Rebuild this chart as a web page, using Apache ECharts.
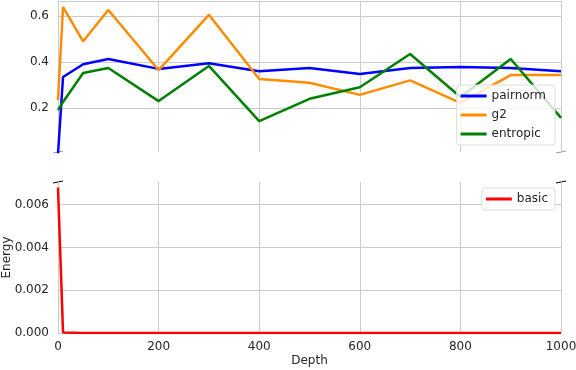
<!DOCTYPE html>
<html>
<head>
<meta charset="utf-8">
<script src="https://cdn.jsdelivr.net/npm/echarts@6/dist/echarts.min.js"></script>
<style>
html,body{margin:0;padding:0;background:#fff;}
#chart{width:576px;height:370px;}
</style>
</head>
<body>
<div id="chart"></div>
<script>
// depth values (x) shared by all series
var depth = [0, 10, 50, 100, 200, 300, 400, 500, 600, 700, 800, 900, 1000];
// top panel
var pairnorm = [0.0, 0.335, 0.39, 0.413, 0.37, 0.395, 0.36, 0.374, 0.348, 0.374, 0.378, 0.374, 0.36];
var g2 = [0.235, 0.639, 0.49, 0.626, 0.365, 0.605, 0.326, 0.31, 0.257, 0.32, 0.222, 0.343, 0.343];
var entropic = [0.191, 0.226, 0.352, 0.374, 0.23, 0.383, 0.143, 0.24, 0.29, 0.435, 0.248, 0.413, 0.157];
// bottom panel
var basic = [0.0068, 0.00002, 0, 0, 0, 0, 0, 0, 0, 0, 0, 0, 0];
var xTicks = [0, 200, 400, 600, 800, 1000];

function pairs(ys){
    var out = [];
    for (var i = 0; i < depth.length; i++) out.push([depth[i], ys[i]]);
    return out;
}

var gray = '#cccccc';
var txt = '#262626';
var font = 'DejaVu Sans';

var chart = echarts.init(document.getElementById('chart'));

var option = {
    backgroundColor: '#fff',
    animation: false,
    textStyle: {fontFamily: font},
    grid: [
        {left: 58, right: 15, top: 1, height: 151, outerBoundsMode: 'none', containLabel: false},
        {left: 58, right: 15, top: 182, height: 151, outerBoundsMode: 'none', containLabel: false}
    ],
    xAxis: [
        {   // top panel
            gridIndex: 0, type: 'value', position: 'top',
            min: xTicks[0], max: xTicks[xTicks.length - 1], interval: 200,
            axisLine: {show: true, lineStyle: {color: gray}},
            axisTick: {show: false},
            axisLabel: {show: false},
            splitLine: {show: true, lineStyle: {color: gray}}
        },
        {   // bottom panel
            gridIndex: 1, type: 'value', position: 'bottom',
            min: xTicks[0], max: xTicks[xTicks.length - 1], interval: 200,
            name: 'Depth', nameLocation: 'middle', nameGap: 22, nameMoveOverlap: false,
            nameTextStyle: {color: txt, fontSize: 12, fontFamily: font},
            axisLine: {show: true, lineStyle: {color: gray}},
            axisTick: {show: false},
            axisLabel: {color: txt, fontSize: 12, fontFamily: font, margin: 8,
                formatter: function(v){ return String(v); }},
            splitLine: {show: true, lineStyle: {color: gray}}
        }
    ],
    yAxis: [
        {
            gridIndex: 0, type: 'value', min: 0.0087, max: 0.6652,
            minInterval: 0.2, maxInterval: 0.2,
            axisLine: {show: true, lineStyle: {color: gray}},
            axisTick: {show: false},
            axisLabel: {color: txt, fontSize: 12, fontFamily: font, margin: 9,
                showMinLabel: false, showMaxLabel: false,
                formatter: function(v){ return v.toFixed(1); }},
            splitLine: {show: true, showMinLine: false, showMaxLine: false, lineStyle: {color: gray}}
        },
        {
            gridIndex: 1, type: 'value', min: 0, max: 0.00706, interval: 0.002,
            name: 'Energy', nameLocation: 'middle', nameGap: 51, nameMoveOverlap: false,
            nameRotate: 90,
            nameTextStyle: {color: txt, fontSize: 12, fontFamily: font, verticalAlign: 'middle'},
            axisLine: {show: true, lineStyle: {color: gray}},
            axisTick: {show: false},
            axisLabel: {color: txt, fontSize: 12, fontFamily: font, margin: 9,
                showMaxLabel: false,
                formatter: function(v){ return v.toFixed(3); }},
            splitLine: {show: true, showMaxLine: false, lineStyle: {color: gray}}
        },
        {   // right spines
            gridIndex: 0, type: 'value', position: 'right', min: 0.0087, max: 0.6652,
            axisLine: {show: true, lineStyle: {color: gray}},
            axisTick: {show: false}, axisLabel: {show: false}, splitLine: {show: false}
        },
        {
            gridIndex: 1, type: 'value', position: 'right', min: 0, max: 0.00706,
            axisLine: {show: true, lineStyle: {color: gray}},
            axisTick: {show: false}, axisLabel: {show: false}, splitLine: {show: false}
        }
    ],
    legend: [
        {
            data: ['pairnorm', 'g2', 'entropic'],
            orient: 'vertical', right: 21, top: 85,
            icon: 'rect', itemWidth: 26, itemHeight: 3, itemGap: 5,
            padding: [4, 9, 4, 4],
            backgroundColor: 'rgba(255,255,255,0.8)',
            borderColor: '#dddddd', borderWidth: 1, borderRadius: 3,
            textStyle: {color: txt, fontSize: 12, fontFamily: font, lineHeight: 14}
        },
        {
            data: ['basic'],
            orient: 'vertical', right: 21, top: 188,
            icon: 'rect', itemWidth: 26, itemHeight: 3,
            padding: [4, 7, 4, 4],
            backgroundColor: 'rgba(255,255,255,0.8)',
            borderColor: '#dddddd', borderWidth: 1, borderRadius: 3,
            textStyle: {color: txt, fontSize: 12, fontFamily: font, lineHeight: 14}
        }
    ],
    series: [
        {name: 'pairnorm', type: 'line', xAxisIndex: 0, yAxisIndex: 0, data: pairs(pairnorm),
            symbol: 'none', color: '#0000ff', lineStyle: {width: 2.5, color: '#0000ff'}},
        {name: 'g2', type: 'line', xAxisIndex: 0, yAxisIndex: 0, data: pairs(g2),
            symbol: 'none', color: '#ff8c00', lineStyle: {width: 2.5, color: '#ff8c00'}},
        {name: 'entropic', type: 'line', xAxisIndex: 0, yAxisIndex: 0, data: pairs(entropic),
            symbol: 'none', color: '#008000', lineStyle: {width: 2.5, color: '#008000'}},
        {name: 'basic', type: 'line', xAxisIndex: 1, yAxisIndex: 1, data: pairs(basic),
            symbol: 'none', color: '#ff0000', lineStyle: {width: 2.5, color: '#ff0000'}}
    ],
    graphic: [
        // break marks
        {type: 'line', shape: {x1: 53, y1: 153, x2: 63, y2: 151}, style: {stroke: '#999', lineWidth: 1}},
        {type: 'line', shape: {x1: 556, y1: 153, x2: 566, y2: 151}, style: {stroke: '#999', lineWidth: 1}},
        {type: 'line', shape: {x1: 53, y1: 183, x2: 63, y2: 181}, style: {stroke: '#000', lineWidth: 1}},
        {type: 'line', shape: {x1: 556, y1: 183, x2: 566, y2: 181}, style: {stroke: '#000', lineWidth: 1}}
    ]
};

chart.setOption(option);
window.onresize = function(){ chart.resize(); };
</script>
</body>
</html>
